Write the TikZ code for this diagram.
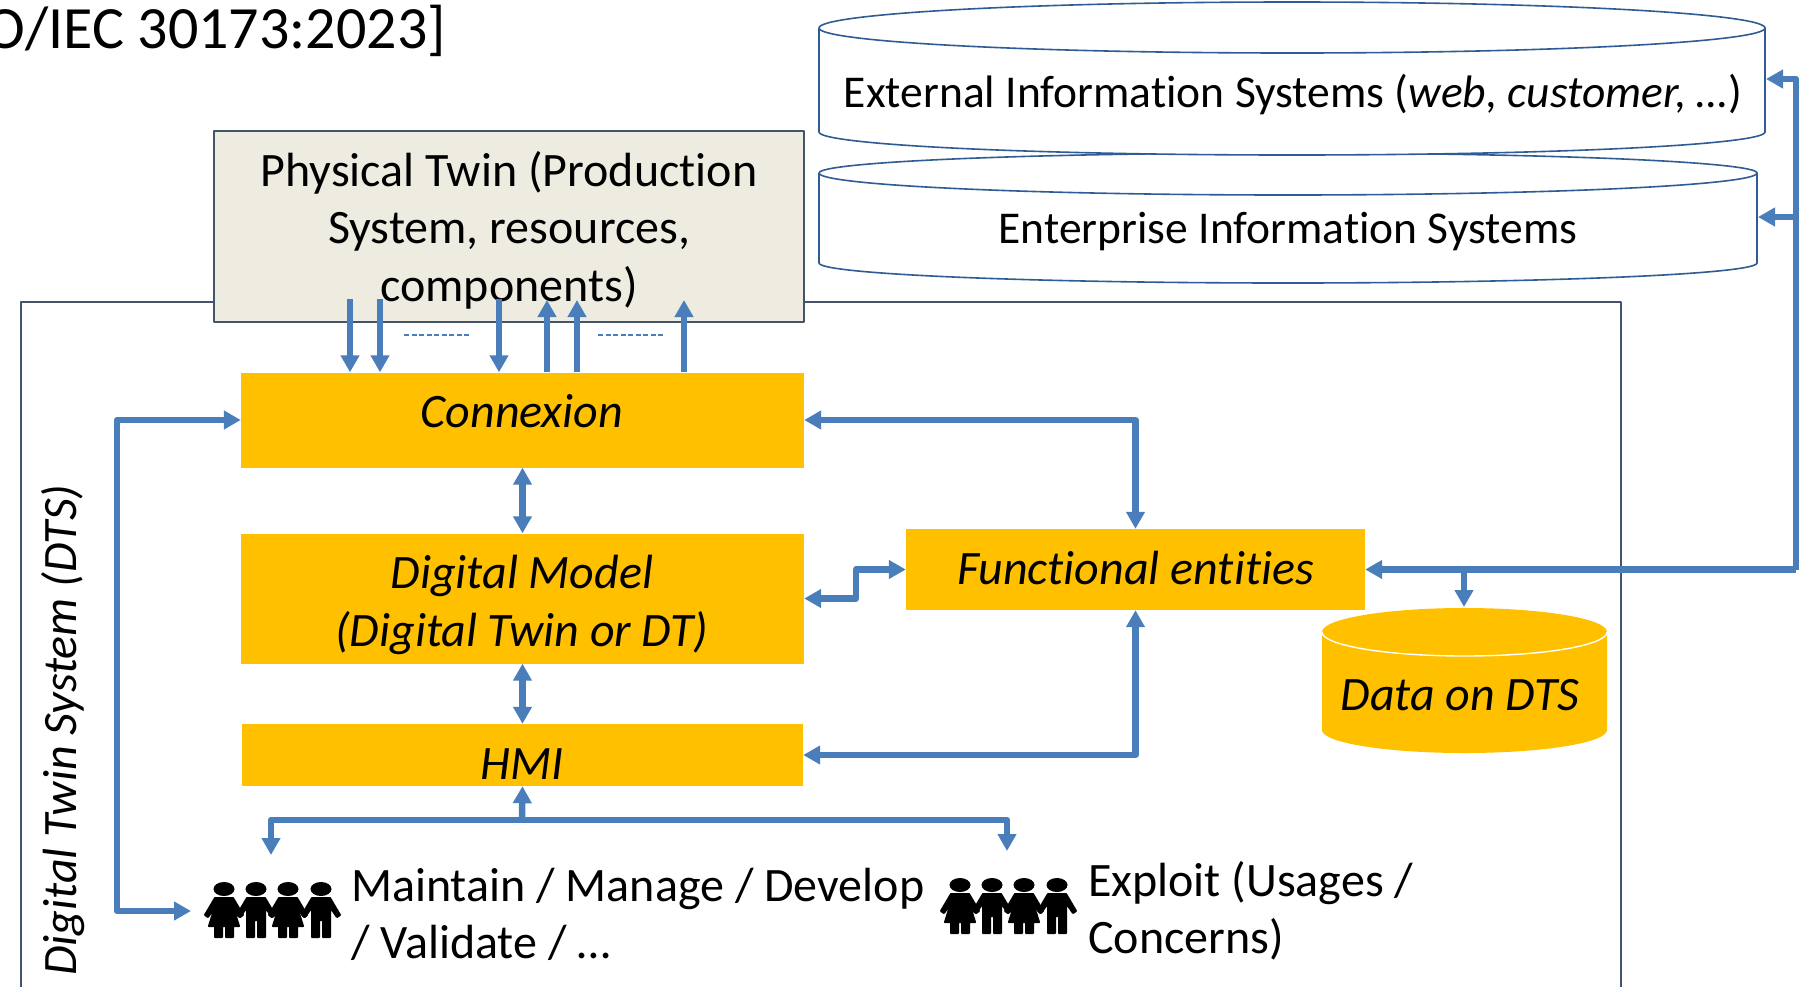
\documentclass[tikz,border=0pt]{standalone}
\usepackage{fontspec}
\setmainfont[Ligatures=NoCommon]{Carlito}
\usetikzlibrary{arrows.meta}
\definecolor{arrowblue}{HTML}{4A7EBB}
\definecolor{cylline}{HTML}{2F5C94}
\definecolor{frameline}{HTML}{44546A}
\definecolor{twinfill}{HTML}{EEECE1}
\definecolor{boxfill}{HTML}{FFC000}
\tikzset{
lnk/.style={draw=arrowblue, line width=6.5pt, {Triangle[width=18pt,length=17pt]}-{Triangle[width=18pt,length=17pt]}},
lnkto/.style={draw=arrowblue, line width=6.5pt, -{Triangle[width=18pt,length=17pt]}},
fnbox/.style={fill=boxfill, inner sep=0pt, font=\fontsize{48}{57.5}\selectfont\itshape, align=center},
txt/.style={inner sep=0pt, font=\fontsize{48}{57.5}\selectfont},
ittxt/.style={inner sep=0pt, font=\fontsize{48}{57.5}\selectfont\itshape},
dbtxt/.style={inner sep=0pt, font=\fontsize{45.5}{57.5}\selectfont},
boy/.pic={
\fill (0,7) ellipse (10.5 and 7);
\filldraw[line width=2pt, line join=round] (-9,16)--(9,16)--(19,33)--(16,35)--(9,25)--(9,55)--(2,55)--(2,38)--(-2,38)--(-2,55)--(-9,55)--(-9,25)--(-16,35)--(-19,33)--cycle;
},
girl/.pic={
\fill (0,7) ellipse (10.5 and 7);
\filldraw[line width=2pt, line join=round] (-9,16)--(9,16)--(19,33)--(16,35)--(9,25)--(15,44)--(9,44)--(9,55)--(2,55)--(2,44)--(-2,44)--(-2,55)--(-9,55)--(-9,44)--(-15,44)--(-9,25)--(-16,35)--(-19,33)--cycle;
}}
\begin{document}
\begin{tikzpicture}[x=1pt, y=-1pt, line join=round]
\useasboundingbox (0,0) rectangle (1802,986);
\clip (0,0) rectangle (1802,986);
\node[txt, font=\fontsize{60}{70}\selectfont, anchor=east] (norm) at (446,31) {O/IEC 30173:2023]};
% frame of the twin system
\draw[frameline, line width=1.8pt] (21,1010) -- (21,302) -- (1621,302) -- (1621,1010);
\node[ittxt, rotate=90] (dts) at (63,730) {Digital Twin System (DTS)};
% information systems
\draw[cylline, line width=1.6pt, fill=white] (819,173) -- (819,263) arc[start angle=180, end angle=0, x radius=469, y radius=20] -- (1757,173) arc[start angle=0, end angle=-180, x radius=469, y radius=20];
\draw[cylline, line width=1.6pt] (819,173) arc[start angle=180, end angle=0, x radius=469, y radius=22];
\draw[cylline, line width=1.6pt, fill=white] (819,28) -- (819,132) arc[start angle=180, end angle=0, x radius=473, y radius=23] -- (1765,28) arc[start angle=0, end angle=-180, x radius=473, y radius=26];
\draw[cylline, line width=1.6pt] (819,28) arc[start angle=180, end angle=0, x radius=473, y radius=25];
\node[dbtxt] (ext) at (1293,95) {External Information Systems (\textit{web, customer, …})};
\node[dbtxt] (ent) at (1288,232) {Enterprise Information Systems};
\coordinate (extin) at (1766,79);
\coordinate (entin) at (1758,217);
% data store
\fill[boxfill] (1322,632) -- (1322,730) arc[start angle=180, end angle=0, x radius=142.5, y radius=23] -- (1607,632) arc[start angle=0, end angle=-180, x radius=142.5, y radius=24];
\draw[white, line width=1.4pt] (1322,632) arc[start angle=180, end angle=0, x radius=142.5, y radius=24];
\node[ittxt] (data) at (1460,695) {Data on DTS};
\coordinate (datain) at (1464,607);
% boxes
\node[draw=frameline, line width=1.8pt, fill=twinfill, minimum width=590, minimum height=191, inner sep=0pt] (phys) at (509,226.5) {};
\node[txt, align=center] (physt) at (509,230) {Physical Twin (Production\\System, resources,\\components)};
\node[fnbox, minimum width=563, minimum height=95] (conn) at (522.5,420) {};
\node[ittxt] (connt) at (522,411) {Connexion};
\node[fnbox, minimum width=563, minimum height=130] (model) at (522.5,598.5) {};
\node[ittxt, align=center] (modelt) at (522,605) {Digital Model\\(Digital Twin or DT)};
\node[fnbox, minimum width=561, minimum height=62] (hmi) at (522.5,755) {};
\node[ittxt] (hmit) at (522,764) {HMI};
\node[fnbox, minimum width=459, minimum height=81] (func) at (1135.5,569.5) {};
\node[ittxt] (funct) at (1135.5,568) {Functional entities};
% people
\foreach\i/\kid in {224/girl,256/boy,288/girl,321/boy}
\pic at (\i,882) {\kid};
\foreach\i/\kid in {960/girl,992/boy,1024/girl,1057/boy}
\pic at (\i,878) {\kid};
\node[txt, anchor=west, align=left] (maint) at (351,914.5) {Maintain / Manage / Develop\\/ Validate / …};
\node[txt, anchor=west, align=left] (expl) at (1088,911) {Exploit (Usages /\\Concerns)};
% links to the physical twin
\foreach\nm/\px in {p1/350,p2/380,p3/499}{
\coordinate (\nm) at (\px,299);
\draw[lnkto] (\nm) -- (\nm |- conn.north);
}
\foreach\nm/\px in {q1/547,q2/577,q3/684}{
\coordinate (\nm) at (\px,300);
\draw[lnkto] (\nm |- conn.north) -- (\nm);
}
\draw[arrowblue, line width=1.8pt, dash pattern=on 5pt off 2.5pt] (404,335) -- (470,335);
\draw[arrowblue, line width=1.8pt, dash pattern=on 5pt off 2.5pt] (598,335) -- (663,335);
% links between the entities
\draw[lnk] (conn.south) -- (model.north);
\draw[lnk] (model.south) -- (hmi.north);
\coordinate (maintin) at (191,911);
\draw[lnk] (conn.west) -- (117,420) -- (117,911) -- (maintin);
\draw[lnk] (conn.east) -- (func.north |- conn.east) -- (func.north);
\draw[lnk] (hmi.east) -- (func.south |- hmi.east) -- (func.south);
\draw[lnk] (model.east) -- (856,598.5) -- (856,569.5) -- (func.west);
% links to the users
\coordinate (bus) at (522,820);
\coordinate (maintup) at (271,855);
\coordinate (explup) at (1007,851);
\draw[lnkto] (bus) -- (hmi.south);
\draw[lnkto] (bus) -- (maintup |- bus) -- (maintup);
\draw[lnkto] (bus) -- (explup |- bus) -- (explup);
% links to the outside
\coordinate (corner) at (1796,569.5);
\draw[lnkto] (corner) -- (func.east);
\draw[lnkto] (corner) -- (corner |- extin) -- (extin);
\draw[lnkto] (corner |- entin) -- (entin);
\draw[lnkto] (datain |- corner) -- (datain);
\end{tikzpicture}
\end{document}
